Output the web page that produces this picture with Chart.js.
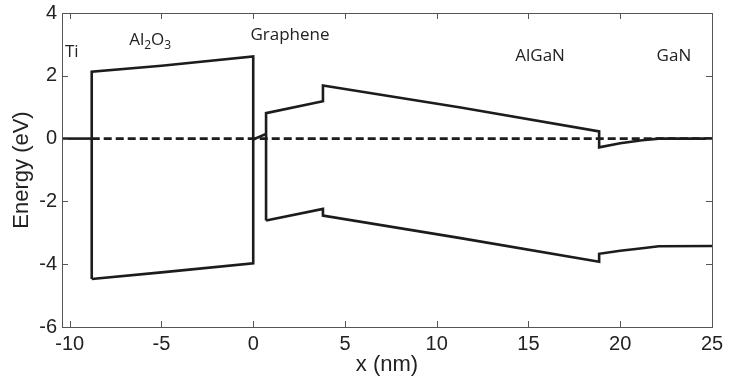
<!DOCTYPE html>
<html lang="en">
<head>
    <meta charset="UTF-8">
    <title>Band diagram Ti / Al2O3 / Graphene / AlGaN / GaN</title>
    <script src="https://cdn.jsdelivr.net/npm/chart.js@4.4.0/dist/chart.umd.min.js"></script>
    <style>
        body { margin: 0; background: #fff; }
        #wrap { width: 729px; height: 383px; }
    </style>
</head>
<body>
    <div id="wrap"><canvas id="myChart"></canvas></div>
<script>
    // axis ticks
    var xTicks = [-10, -5, 0, 5, 10, 15, 20, 25];
    var yTicks = [-6, -4, -2, 0, 2, 4];

    // Ti Fermi level (solid) and Fermi level through the stack (dashed)
    var tiX = [-10.42, -8.8];
    var tiY = [0, 0];
    var fermiX = [-8.8, 25];
    var fermiY = [0, 0];

    // Al2O3 barrier (closed outline)
    var oxideX = [-8.8, -8.8, -5, 0, 0, -5, -8.8];
    var oxideY = [-4.47, 2.13, 2.32, 2.62, -3.97, -4.26, -4.47];

    // graphene
    var grapheneX = [0, 0.7];
    var grapheneY = [-0.03, 0.15];

    // AlGaN / GaN conduction band
    var cbX = [0.7, 0.7, 3.8, 3.8, 11.3, 18.85, 18.85, 20, 21.2, 22.1, 25];
    var cbY = [-2.61, 0.81, 1.19, 1.69, 0.99, 0.23, -0.28, -0.15, -0.05, 0, 0];

    // AlGaN / GaN valence band
    var vbX = [0.7, 3.8, 3.8, 11.3, 18.85, 18.85, 20, 21.2, 22.1, 25];
    var vbY = [-2.61, -2.24, -2.45, -3.17, -3.92, -3.67, -3.57, -3.49, -3.43, -3.42];

    // region labels ("|" separates subscript parts)
    var regionNames = ['Ti', 'Al|2|O|3', 'Graphene', 'AlGaN', 'GaN'];
    var regionX = [-10.26, -6.76, -0.15, 14.28, 21.98];
    var regionY = [2.74, 3.12, 3.31, 2.64, 2.64];

    function pts(xs, ys) {
        return xs.map(function (x, i) { return { x: x, y: ys[i] }; });
    }

    var ink = '#1c1c1c';
    function line(xs, ys, dash) {
        return {
            data: pts(xs, ys),
            showLine: true,
            borderColor: ink,
            borderWidth: 2.6,
            borderDash: dash || [],
            pointRadius: 0,
            tension: 0,
            fill: false
        };
    }

    // box round the plot with inward ticks on all four sides
    var frame = {
        id: 'frame',
        afterDatasetsDraw: function (chart) {
            var c = chart.ctx, a = chart.chartArea;
            var sx = chart.scales.x, sy = chart.scales.y;
            c.save();
            c.strokeStyle = '#555';
            c.lineWidth = 1;
            c.strokeRect(a.left + 0.5, a.top + 0.5, a.right - a.left, a.bottom - a.top);
            c.beginPath();
            xTicks.forEach(function (v) {
                var px = Math.round(sx.getPixelForValue(v)) + 0.5;
                c.moveTo(px, a.bottom); c.lineTo(px, a.bottom - 6);
                c.moveTo(px, a.top); c.lineTo(px, a.top + 6);
            });
            yTicks.forEach(function (v) {
                var py = Math.round(sy.getPixelForValue(v)) + 0.5;
                c.moveTo(a.left, py); c.lineTo(a.left + 6, py);
                c.moveTo(a.right, py); c.lineTo(a.right - 6, py);
            });
            c.stroke();

            c.fillStyle = '#222';
            c.textBaseline = 'middle';
            regionNames.forEach(function (name, i) {
                var px = sx.getPixelForValue(regionX[i]);
                var py = sy.getPixelForValue(regionY[i]);
                name.split('|').forEach(function (part, k) {
                    var sub = k % 2 === 1;
                    c.font = (sub ? '12px' : '17px') + ' "Open Sans", sans-serif';
                    c.fillText(part, px, py + (sub ? 5 : 0));
                    px += c.measureText(part).width;
                });
            });
            c.restore();
        }
    };

    var ctx = document.getElementById('myChart').getContext('2d');
    var chart = new Chart(ctx, {
        type: 'scatter',
        data: {
            datasets: [
                line(tiX, tiY),
                line(fermiX, fermiY, [8, 4]),
                line(oxideX, oxideY),
                line(grapheneX, grapheneY),
                line(cbX, cbY),
                line(vbX, vbY)
            ]
        },
        options: {
            responsive: true,
            maintainAspectRatio: false,
            devicePixelRatio: 1,
            animation: false,
            layout: { padding: { top: 13, right: 17, left: 0, bottom: 0 } },
            plugins: { legend: { display: false }, tooltip: { enabled: false } },
            scales: {
                x: {
                    type: 'linear',
                    min: -10.42,
                    max: 25,
                    afterBuildTicks: function (s) { s.ticks = xTicks.map(function (v) { return { value: v }; }); },
                    afterFit: function (s) { s.height = 56; s.paddingLeft = 0; s.paddingRight = 0; },
                    grid: { display: false, drawTicks: false },
                    border: { display: false },
                    ticks: { color: '#222', padding: 5, maxRotation: 0,
                             font: { family: '"Liberation Sans", Arial', size: 20 } },
                    title: { display: true, text: 'x (nm)', color: '#222',
                             padding: { top: 0, bottom: 5 },
                             font: { family: '"Liberation Sans", Arial', size: 22 } }
                },
                y: {
                    type: 'linear',
                    min: -6,
                    max: 4,
                    afterBuildTicks: function (s) { s.ticks = yTicks.map(function (v) { return { value: v }; }); },
                    afterFit: function (s) { s.width = 62; s.paddingTop = 0; s.paddingBottom = 0; },
                    grid: { display: false, drawTicks: false },
                    border: { display: false },
                    ticks: { color: '#222', padding: 5,
                             font: { family: '"Liberation Sans", Arial', size: 20 } },
                    title: { display: true, text: 'Energy (eV)', color: '#222',
                             padding: { top: 9, bottom: 0 },
                             font: { family: '"Liberation Sans", Arial', size: 22 } }
                }
            }
        },
        plugins: [frame]
    });
</script>
</body>
</html>
